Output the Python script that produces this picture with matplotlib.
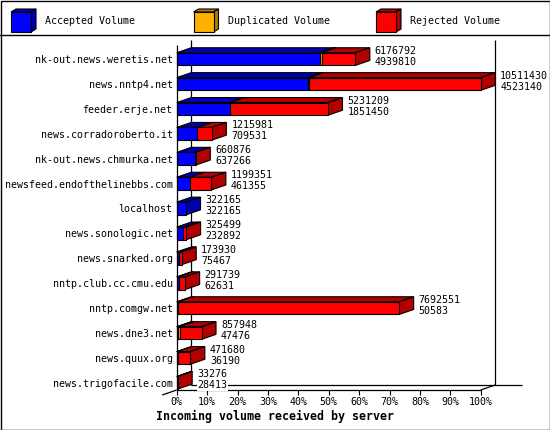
import matplotlib
matplotlib.use("Agg")
import matplotlib.pyplot as plt
from matplotlib.patches import Polygon, Rectangle

hosts = ["nk-out.news.weretis.net", "news.nntp4.net", "feeder.erje.net",
         "news.corradoroberto.it", "nk-out.news.chmurka.net",
         "newsfeed.endofthelinebbs.com", "localhost", "news.sonologic.net",
         "news.snarked.org", "nntp.club.cc.cmu.edu", "nntp.comgw.net",
         "news.dne3.net", "news.quux.org", "news.trigofacile.com"]
total = [6176792, 10511430, 5231209, 1215981, 660876, 1199351, 322165,
         325499, 173930, 291739, 7692551, 857948, 471680, 33276]
accepted = [4939810, 4523140, 1851450, 709531, 637266, 461355, 322165,
            232892, 75467, 62631, 50583, 47476, 36190, 28413]
duplicated = [70000, 50000, 0, 0, 0, 0, 0, 0, 0, 0, 0, 60000, 0, 0]
ticks = list(range(0, 101, 10))
legend_names = ["Accepted Volume", "Duplicated Volume", "Rejected Volume"]

front = ["#0000ff", "#ffb000", "#ff0000"]
shade = ["#0000b0", "#b07c00", "#b00000"]

W, H = 550, 430
FONT = "DejaVu Sans Mono"
fs = 7.2

fig = plt.figure(figsize=(W / 100, H / 100), dpi=100)

# overlay in pixel coords for frame + legend
deco = fig.add_axes([0, 0, 1, 1])
deco.set_xlim(0, W)
deco.set_ylim(H, 0)
deco.axis("off")
deco.add_patch(Rectangle((0.5, 0.5), W - 1, H - 1, fill=False, ec="black", lw=1))
deco.plot([0, W], [34.5, 34.5], color="black", lw=1)
for k, name in enumerate(legend_names):
    x0 = 11 + 182.5 * k
    y0, s, cdx, cdy = 12, 20, 5, 3
    deco.add_patch(Polygon([(x0, y0), (x0 + cdx, y0 - cdy), (x0 + s + cdx, y0 - cdy), (x0 + s, y0)],
                           fc=shade[k], ec="black", lw=0.8))
    deco.add_patch(Polygon([(x0 + s, y0), (x0 + s + cdx, y0 - cdy), (x0 + s + cdx, y0 + s - cdy), (x0 + s, y0 + s)],
                           fc=shade[k], ec="black", lw=0.8))
    deco.add_patch(Rectangle((x0, y0), s, s, fc=front[k], ec="black", lw=0.8))
    deco.text(x0 + 34, 21, name, family=FONT, fontsize=fs, va="center", ha="left")

# main plot: x in % of the biggest total, y in rows
px_row = 24.9
ax = fig.add_axes([176.7 / W, (H - 390) / H, 304 / W, 350 / H])
ax.set_xlim(0, 100)
ax.set_ylim(13 + 7.2 / px_row, -19.1 / px_row)
ax.patch.set_visible(False)
for sp in ax.spines.values():
    sp.set_visible(False)

dx = 14.5 / 304 * 100
dy = 5 / px_row
bh = 12.7 / px_row
floor = 13 + 7.2 / px_row
top = -19.1 / px_row
vmax = max(total)

line = dict(color="black", lw=0.9, clip_on=False, solid_capstyle="butt")
# back wall and floor
ax.plot([dx, dx], [top, floor - dy], zorder=1, **line)
ax.plot([100 + dx, 100 + dx], [top, floor - dy], zorder=1, **line)
ax.plot([dx, (522 - 176.7) / 304 * 100], [floor - dy, floor - dy], zorder=1, **line)
# front edges
ax.plot([0, 0], [top + dy, floor], zorder=5, **line)
ax.plot([0, 100], [floor, floor], zorder=5, **line)
ax.plot([100, 100 + dx], [floor, floor - dy], zorder=5, **line)
ax.plot([-dx, 0], [floor + dy, floor], zorder=5, **line)

for i in range(len(hosts)):
    rej = total[i] - accepted[i] - duplicated[i]
    parts = [accepted[i], duplicated[i], rej]
    left = 0.0
    last = None
    yt = i - bh / 2
    for k, v in enumerate(parts):
        w = v / vmax * 100
        if w <= 0:
            continue
        ax.add_patch(Polygon([(left, yt), (left + dx, yt - dy), (left + w + dx, yt - dy), (left + w, yt)],
                             fc=shade[k], ec="black", lw=0.8, clip_on=False, zorder=3))
        ax.barh(i, w, left=left, height=bh, color=front[k], edgecolor="black",
                lw=0.8, clip_on=False, zorder=4)
        left += w
        last = k
    ax.add_patch(Polygon([(left, yt), (left + dx, yt - dy), (left + dx, yt + bh - dy), (left, yt + bh)],
                         fc=shade[last], ec="black", lw=0.8, clip_on=False, zorder=3))
    xt = left + dx + 5 / 304 * 100
    box = dict(fc="white", ec="none", pad=0.3)
    ax.text(xt, i - 0.215, str(total[i]), family=FONT, fontsize=fs, va="baseline",
            ha="left", zorder=6, bbox=box)
    ax.text(xt, i + 0.227, str(accepted[i]), family=FONT, fontsize=fs, va="baseline",
            ha="left", zorder=6, bbox=box)

ax.set_yticks(range(len(hosts)))
ax.set_yticklabels(hosts, family=FONT, fontsize=fs)
ax.tick_params(axis="y", length=0, pad=3)
ax.set_xticks(ticks)
ax.set_xticklabels([f"{t}%" for t in ticks], family=FONT, fontsize=fs)
ax.tick_params(axis="x", length=3.6, width=0.8, pad=1.5, direction="out")

fig.text(156 / W, 1 - 416.7 / H, "Incoming volume received by server", family=FONT,
         fontsize=8.4, fontweight="bold", va="center", ha="left")

fig.savefig("out.png", dpi=100)
